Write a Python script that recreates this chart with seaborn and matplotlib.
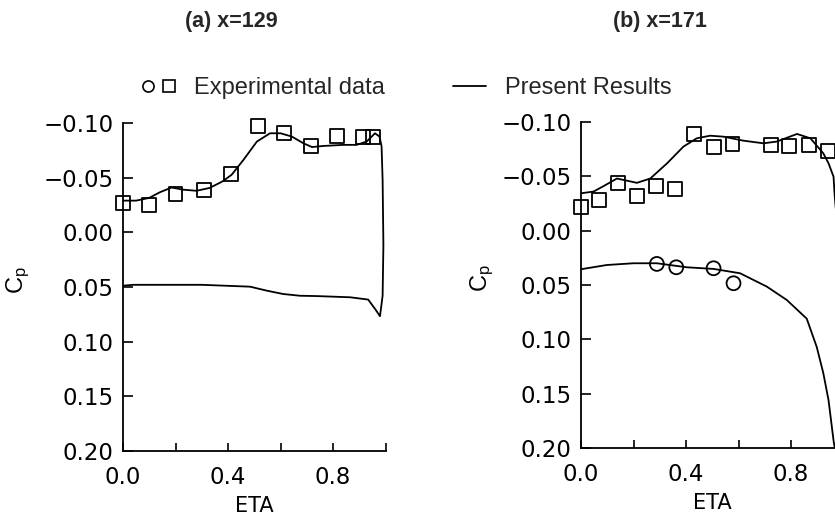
import numpy as np
import pandas as pd
import seaborn as sns
import matplotlib as mpl
mpl.use("Agg")
import matplotlib.pyplot as plt
from matplotlib.lines import Line2D
from matplotlib.legend_handler import HandlerTuple
from matplotlib.ticker import FixedLocator, FuncFormatter

sns.set_theme(style="ticks")
plt.rcParams["font.family"] = ["Liberation Sans", "DejaVu Sans"]

# (a) x=129 : experimental squares
A_SQ_ETA = [0.0, 0.10, 0.20, 0.31, 0.41, 0.515, 0.613, 0.716, 0.816, 0.913, 0.953]
A_SQ_CP = [-0.027, -0.025, -0.035, -0.039, -0.053, -0.097, -0.091, -0.079, -0.088, -0.087, -0.087]

# (a) computed curve, upper surface (runs round the tip and down the edge)
A_UP_ETA = [0.0, 0.05, 0.10, 0.14, 0.185, 0.23, 0.28, 0.33, 0.38, 0.414, 0.458, 0.51,
            0.56, 0.60, 0.643, 0.687, 0.72, 0.763, 0.84, 0.89, 0.928, 0.96, 0.977,
            0.985, 0.989, 0.992, 0.989]
A_UP_CP = [-0.029, -0.029, -0.0315, -0.0366, -0.041, -0.039, -0.038, -0.0406, -0.0467,
           -0.0527, -0.066, -0.083, -0.0906, -0.0906, -0.0876, -0.0815, -0.078, -0.079,
           -0.080, -0.080, -0.083, -0.0906, -0.0876, -0.0788, -0.048, 0.012, 0.058]
# (a) computed curve, lower surface
A_LO_ETA = [0.0, 0.04, 0.30, 0.484, 0.547, 0.61, 0.674, 0.738, 0.865, 0.934, 0.96, 0.979]
A_LO_CP = [0.0488, 0.048, 0.048, 0.0497, 0.0533, 0.0564, 0.058, 0.0583, 0.0594, 0.0615,
           0.070, 0.0767]

# (b) x=171 : experimental squares and circles
B_SQ_ETA = [0.0, 0.07, 0.142, 0.215, 0.286, 0.359, 0.432, 0.505, 0.577, 0.723, 0.794, 0.868, 0.94]
B_SQ_CP = [-0.0215, -0.028, -0.044, -0.032, -0.041, -0.038, -0.0887, -0.0773, -0.0798,
           -0.0789, -0.078, -0.0789, -0.0736]
B_CI_ETA = [0.289, 0.363, 0.505, 0.581]
B_CI_CP = [0.0306, 0.0337, 0.0346, 0.0484]

# (b) computed curves
B_UP_ETA = [0.0, 0.048, 0.086, 0.137, 0.175, 0.213, 0.264, 0.328, 0.39, 0.441, 0.492,
            0.543, 0.619, 0.695, 0.746, 0.823, 0.874, 0.923, 0.943, 0.962, 0.966, 0.97, 0.985]
B_UP_CP = [-0.0344, -0.036, -0.041, -0.048, -0.046, -0.044, -0.048, -0.062, -0.0773,
           -0.085, -0.0874, -0.0865, -0.0828, -0.0804, -0.082, -0.089, -0.085, -0.0712,
           -0.062, -0.0497, -0.034, -0.022, 0.01]
B_LO_ETA = [0.0, 0.098, 0.2, 0.289, 0.403, 0.505, 0.606, 0.708, 0.784, 0.86, 0.898,
            0.923, 0.943, 0.962, 0.97]
B_LO_CP = [0.0355, 0.0316, 0.030, 0.030, 0.0337, 0.0352, 0.0392, 0.0515, 0.0638, 0.081,
           0.107, 0.131, 0.156, 0.193, 0.205]

TITLES = ["(a) x=129", "(b) x=171"]
Y_TICKS = [-0.10, -0.05, 0.00, 0.05, 0.10, 0.15, 0.20]
X_MAJOR = [0.0, 0.4, 0.8]
X_MINOR = [0.2, 0.6, 1.0]

W, H = 835, 519
fig = plt.figure(figsize=(W / 100, H / 100), dpi=100)
fig.patch.set_facecolor("white")

ax_a = fig.add_axes([123 / W, 1 - 451 / H, 262.5 / W, 328 / H])
ax_b = fig.add_axes([581 / W, 1 - 448 / H, 262.5 / W, 326 / H])

line_kw = dict(color="black", linewidth=1.3, sort=False, estimator=None)
sq_kw = dict(marker="s", s=100, facecolor="none", edgecolor="black", linewidth=1.3,
             zorder=3, clip_on=False)
ci_kw = dict(marker="o", s=100, facecolor="none", edgecolor="black", linewidth=1.3,
             zorder=3, clip_on=False)

# panel (a): closed curve = upper surface then lower surface back to the root
a_line = pd.DataFrame({"eta": A_UP_ETA + A_LO_ETA[::-1], "cp": A_UP_CP + A_LO_CP[::-1]})
sns.lineplot(data=a_line, x="eta", y="cp", ax=ax_a, **line_kw)
sns.scatterplot(x=A_SQ_ETA, y=A_SQ_CP, ax=ax_a, **sq_kw)

# panel (b)
sns.lineplot(x=B_UP_ETA, y=B_UP_CP, ax=ax_b, **line_kw)
sns.lineplot(x=B_LO_ETA, y=B_LO_CP, ax=ax_b, **line_kw)
sns.scatterplot(x=B_SQ_ETA, y=B_SQ_CP, ax=ax_b, **sq_kw)
sns.scatterplot(x=B_CI_ETA, y=B_CI_CP, ax=ax_b, **ci_kw)

yfmt = FuncFormatter(lambda v, p: f"{v:.2f}".replace("-", "\u2212"))
xfmt = FuncFormatter(lambda v, p: f"{v:.1f}")

for ax in (ax_a, ax_b):
    ax.set_xlim(0.0, 1.0)
    ax.set_ylim(0.20, -0.10)
    for side in ("top", "right"):
        ax.spines[side].set_visible(False)
    for side in ("left", "bottom"):
        ax.spines[side].set_linewidth(1.3)
        ax.spines[side].set_color("black")
    ax.set_facecolor("white")
    ax.grid(False)
    ax.yaxis.set_major_locator(FixedLocator(Y_TICKS))
    ax.yaxis.set_major_formatter(yfmt)
    ax.xaxis.set_major_locator(FixedLocator(X_MAJOR))
    ax.xaxis.set_minor_locator(FixedLocator(X_MINOR))
    ax.xaxis.set_major_formatter(xfmt)
    ax.tick_params(axis="y", direction="in", length=7, width=1.2, pad=7,
                   labelsize=16.5, colors="black")
    ax.tick_params(axis="x", which="both", direction="in", length=6, width=1.2,
                   pad=11, labelsize=16.5, colors="black")
    for lab in ax.get_xticklabels() + ax.get_yticklabels():
        lab.set_family(["DejaVu Sans"])
    ax.set_xlabel("ETA", fontsize=15, labelpad=5, color="black", family=["DejaVu Sans"])
    ax.set_ylabel(r"$\mathregular{C_p}$", fontsize=17, color="black")

ax_a.yaxis.set_label_coords(-0.345, 0.52)
ax_b.yaxis.set_label_coords(-0.325, 0.52)

fig.text(231 / W, 1 - 21 / H, TITLES[0], ha="center", va="center",
         fontsize=15.5, fontweight="bold")
fig.text(660 / W, 1 - 21 / H, TITLES[1], ha="center", va="center",
         fontsize=15.5, fontweight="bold")

h_exp = (Line2D([], [], marker="o", ls="none", mfc="none", mec="black", ms=8, mew=1.2),
         Line2D([], [], marker="s", ls="none", mfc="none", mec="black", ms=8, mew=1.2))
h_res = Line2D([], [], color="black", lw=1.3)
fig.legend([h_exp, h_res], ["Experimental data", "Present Results"],
           handler_map={tuple: HandlerTuple(ndivide=None, pad=0.4)},
           loc="center", bbox_to_anchor=(407 / W, 1 - 88 / H), ncol=2,
           frameon=False, fontsize=17, handlelength=1.4, handletextpad=0.8,
           columnspacing=2.9)

fig.savefig("out.png", dpi=100, facecolor="white")
